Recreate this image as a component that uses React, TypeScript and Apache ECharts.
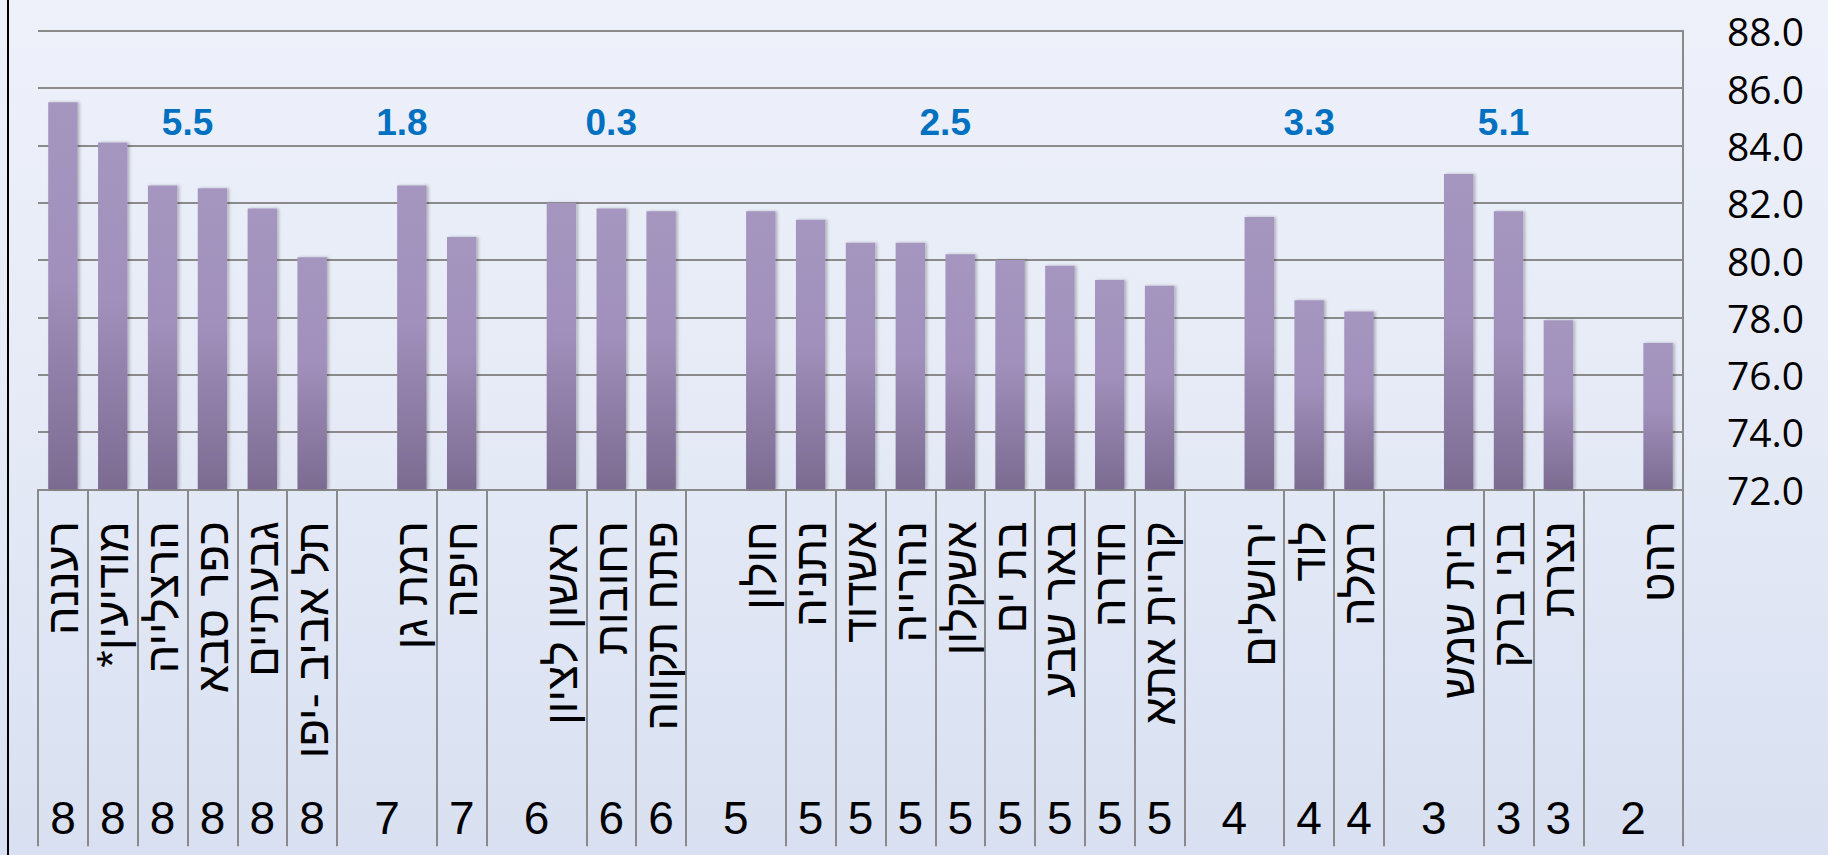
import React, { useEffect, useRef } from "react";
import * as echarts from "echarts";

const cities = [
  "רעננה", "מודיעין*\u200F", "הרצלייה", "כפר סבא", "גבעתיים", "תל אביב -יפו", "",
  "רמת גן", "חיפה", "",
  "ראשון לציון", "רחובות", "פתח תקווה", "",
  "חולון", "נתניה", "אשדוד", "נהרייה", "אשקלון", "בת ים", "באר שבע", "חדרה", "קריית אתא", "",
  "ירושלים", "לוד", "רמלה", "",
  "בית שמש", "בני ברק", "נצרת", "",
  "רהט",
];

const lifeExpectancy = [
  85.5, 84.1, 82.6, 82.5, 81.8, 80.1, null,
  82.6, 80.8, null,
  82.0, 81.8, 81.7, null,
  81.7, 81.4, 80.6, 80.6, 80.2, 80.0, 79.8, 79.3, 79.1, null,
  81.5, 78.6, 78.2, null,
  83.0, 81.7, 77.9, null,
  77.1,
];

const clusters = [
  8, 8, 8, 8, 8, 8, 7,
  7, 7, 6,
  6, 6, 6, 5,
  5, 5, 5, 5, 5, 5, 5, 5, 5, 4,
  4, 4, 4, 3,
  3, 3, 3, 2,
  2,
];

const groupGaps = ["5.5", "1.8", "0.3", "2.5", "3.3", "5.1"];
const groupGapPositions = [2.5, 6.8, 11.0, 17.7, 25.0, 28.9];

const yTicks = { min: 72, max: 88, interval: 2 };

const FONT = '"Liberation Sans", Arial, "DejaVu Sans", sans-serif';
const GRAY = "#8a8a8a";

export default function App() {
  const ref = useRef<HTMLDivElement>(null);

  useEffect(() => {
    if (!ref.current) return;
    const chart = echarts.init(ref.current, undefined, { renderer: "svg" });

    const n = cities.length;
    const clusterLabels: any[] = [];
    for (let i = 0; i < n; i++) {
      if (cities[i] === "") {
        clusterLabels.push({ value: [i + 0.5, 0.0785], name: String(clusters[i]) });
      } else if (i > 0 && cities[i - 1] === "") {
        continue;
      } else {
        clusterLabels.push({ value: [i, 0.0785], name: String(clusters[i]) });
      }
    }

    const gapData = groupGaps.map((g, k) => ({ value: [groupGapPositions[k], 84.8], name: g }));

    const option: any = {
      animation: false,
      backgroundColor: {
        type: "linear", x: 0, y: 0, x2: 0, y2: 1,
        colorStops: [
          { offset: 0, color: "#eef1fa" },
          { offset: 0.5, color: "#e5eaf6" },
          { offset: 1, color: "#d8e0f1" },
        ],
      },
      grid: [
        { left: 38, right: 145, top: 30.7, bottom: 855 - 489.3, containLabel: false },
        { left: 38, right: 145, top: 489.3, bottom: 9, containLabel: false },
      ],
      xAxis: [
        {
          type: "category",
          gridIndex: 0,
          data: cities,
          position: "bottom",
          axisLine: { show: true, onZero: false, lineStyle: { color: GRAY, width: 2 } },
          axisTick: {
            show: true,
            length: 357,
            alignWithLabel: false,
            interval: (i: number) => !(i > 0 && cities[i - 1] === ""),
            lineStyle: { color: GRAY, width: 2 },
          },
          axisLabel: {
            interval: 0,
            rotate: 90,
            margin: 32,
            color: "#000",
            fontSize: 45,
            fontFamily: FONT,
          },
          splitLine: { show: false },
        },
        {
          type: "value", gridIndex: 0, min: -0.5, max: n - 0.5, show: false,
          axisLine: { onZero: false },
        },
        {
          type: "value", gridIndex: 1, min: -0.5, max: n - 0.5, show: false,
          axisLine: { onZero: false },
        },
      ],
      yAxis: [
        {
          type: "value",
          gridIndex: 0,
          position: "right",
          min: yTicks.min,
          max: yTicks.max,
          interval: yTicks.interval,
          axisLine: { show: true, onZero: false, lineStyle: { color: GRAY, width: 2 } },
          axisTick: { show: false },
          splitLine: { show: true, lineStyle: { color: GRAY, width: 2 } },
          axisLabel: {
            formatter: (v: number) => v.toFixed(1),
            margin: 44,
            color: "#000",
            fontSize: 39,
            fontFamily: '"Open Sans", sans-serif',
          },
        },
        { type: "value", gridIndex: 1, min: 0, max: 1, show: false, axisLine: { onZero: false } },
      ],
      graphic: [
        {
          type: "line",
          shape: { x1: 8, y1: 0, x2: 8, y2: 855 },
          style: { stroke: "#000", lineWidth: 2 },
          silent: true,
        },
      ],
      series: [
        {
          type: "bar",
          xAxisIndex: 0,
          yAxisIndex: 0,
          data: lifeExpectancy,
          barWidth: "59%",
          itemStyle: {
            color: {
              type: "linear", x: 0, y: 0, x2: 0, y2: 1,
              colorStops: [
                { offset: 0, color: "#a596c0" },
                { offset: 0.45, color: "#a090bb" },
                { offset: 1, color: "#7c6b91" },
              ],
            },
            shadowColor: "rgba(0,0,0,0.25)",
            shadowBlur: 3,
            shadowOffsetX: 2,
          },
        },
        {
          type: "scatter",
          xAxisIndex: 1,
          yAxisIndex: 0,
          data: gapData,
          symbolSize: 1,
          itemStyle: { color: "rgba(0,0,0,0)", opacity: 1 },
          silent: true,
          label: {
            show: true,
            position: "inside",
            formatter: (p: any) => p.name,
            color: "#0070c0",
            opacity: 1,
            fontWeight: "bold",
            fontSize: 37,
            fontFamily: FONT,
          },
        },
        {
          type: "scatter",
          xAxisIndex: 2,
          yAxisIndex: 1,
          data: clusterLabels,
          symbolSize: 1,
          itemStyle: { color: "rgba(0,0,0,0)", opacity: 1 },
          silent: true,
          label: {
            show: true,
            position: "inside",
            formatter: (p: any) => p.name,
            color: "#000",
            opacity: 1,
            fontSize: 46,
            fontFamily: FONT,
          },
        },
      ],
    };

    chart.setOption(option);
    return () => chart.dispose();
  }, []);

  return (
    <div
      ref={ref}
      style={{ position: "absolute", left: 0, top: 0, width: "1828px", height: "855px" }}
    />
  );
}
